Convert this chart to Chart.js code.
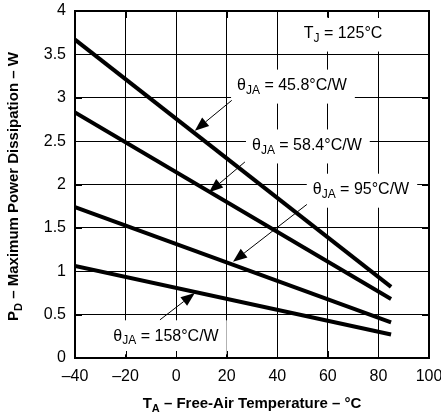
<!DOCTYPE html>
<html>
<head>
<meta charset="utf-8">
<script src="https://cdn.jsdelivr.net/npm/chart.js@4"></script>
<style>
  html, body { margin: 0; padding: 0; background: #fff; }
  #wrap { width: 441px; height: 415px; }
</style>
</head>
<body>
<div id="wrap"><canvas id="pdChart" width="441" height="415"></canvas></div>
<script>
// ---- data (T_J = 125°C) ----
const tempEnds = [-40, 85];             // free-air temperature, °C
const pd458 = [3.67, 0.82];             // θJA = 45.8 °C/W
const pd584 = [2.83, 0.68];             // θJA = 58.4 °C/W
const pd95  = [1.74, 0.41];             // θJA = 95 °C/W
const pd158 = [1.06, 0.27];             // θJA = 158 °C/W
const seriesNames = ['45.8', '58.4', '95', '158'];

const FONT = '"Liberation Sans", Arial, sans-serif';
const NOTE_SIZE = 16;

function pts(ys) {
  return tempEnds.map((t, i) => ({ x: t, y: ys[i] }));
}

// labels + arrows, placed in data units
const notes = [
  { parts: [['T'], ['J', 1], [' = 125°C']], at: [66, 3.74] },
  { parts: [['θ'], ['JA', 1], [' = 45.8°C/W']], at: [45.8, 3.14], arrow: [22, 2.97, 7.4, 2.62] },
  { parts: [['θ'], ['JA', 1], [' = 58.4°C/W']], at: [51.7, 2.45], arrow: [27.2, 2.26, 13, 1.91] },
  { parts: [['θ'], ['JA', 1], [' = 95°C/W']], at: [73.1, 1.94], arrow: [51.7, 1.77, 22.5, 1.11] },
  { parts: [['θ'], ['JA', 1], [' = 158°C/W']], at: [-4, 0.25], arrow: [-6.4, 0.44, 7.4, 0.75] }
];

function partsWidth(ctx, parts, size, bold) {
  let w = 0;
  parts.forEach(p => {
    ctx.font = (bold ? 'bold ' : '') + (p[1] ? Math.round(size * 0.75) : size) + 'px ' + FONT;
    w += ctx.measureText(p[0]).width;
  });
  return w;
}

function drawParts(ctx, parts, x, y, size, bold) {
  let cx = x;
  parts.forEach(p => {
    const s = p[1] ? Math.round(size * 0.75) : size;
    ctx.font = (bold ? 'bold ' : '') + s + 'px ' + FONT;
    ctx.fillText(p[0], cx, p[1] ? y + size * 0.3 : y);
    cx += ctx.measureText(p[0]).width;
  });
}

const notesPlugin = {
  id: 'notes',
  beforeDatasetsDraw(chart) {
    // white boxes behind the labels hide the grid, short inner ticks stay
    const ctx = chart.ctx, xs = chart.scales.x, ys = chart.scales.y, ca = chart.chartArea;
    ctx.save();
    ctx.fillStyle = '#fff';
    notes.forEach(n => {
      const w = partsWidth(ctx, n.parts, NOTE_SIZE);
      const cx = xs.getPixelForValue(n.at[0]), cy = ys.getPixelForValue(n.at[1]);
      ctx.fillRect(cx - w / 2 - 6, cy - 16, w + 14, 34);
    });
    ctx.strokeStyle = '#000';
    ctx.lineWidth = 1;
    ctx.beginPath();
    xs.ticks.forEach(t => {
      const px = Math.round(xs.getPixelForValue(t.value)) + 0.5;
      ctx.moveTo(px, ca.bottom); ctx.lineTo(px, ca.bottom - 7);
      ctx.moveTo(px, ca.top); ctx.lineTo(px, ca.top + 7);
    });
    ys.ticks.forEach(t => {
      const py = Math.round(ys.getPixelForValue(t.value)) + 0.5;
      ctx.moveTo(ca.left, py); ctx.lineTo(ca.left + 7, py);
      ctx.moveTo(ca.right, py); ctx.lineTo(ca.right - 7, py);
    });
    ctx.stroke();
    ctx.restore();
  },
  afterDatasetsDraw(chart) {
    const ctx = chart.ctx, xs = chart.scales.x, ys = chart.scales.y;
    ctx.save();
    ctx.fillStyle = '#000';
    ctx.strokeStyle = '#000';
    ctx.textBaseline = 'middle';
    notes.forEach(n => {
      const w = partsWidth(ctx, n.parts, NOTE_SIZE);
      const cx = xs.getPixelForValue(n.at[0]), cy = ys.getPixelForValue(n.at[1]);
      drawParts(ctx, n.parts, cx - w / 2, cy, NOTE_SIZE, false);
      if (n.arrow) {
        const x1 = xs.getPixelForValue(n.arrow[0]), y1 = ys.getPixelForValue(n.arrow[1]);
        const x2 = xs.getPixelForValue(n.arrow[2]), y2 = ys.getPixelForValue(n.arrow[3]);
        const a = Math.atan2(y2 - y1, x2 - x1);
        const hl = 14, hw = 5.5;
        const bx = x2 - hl * Math.cos(a), by = y2 - hl * Math.sin(a);
        ctx.lineWidth = 1;
        ctx.beginPath();
        ctx.moveTo(x1, y1);
        ctx.lineTo(bx, by);
        ctx.stroke();
        ctx.beginPath();
        ctx.moveTo(x2, y2);
        ctx.lineTo(bx + hw * Math.sin(a), by - hw * Math.cos(a));
        ctx.lineTo(bx - hw * Math.sin(a), by + hw * Math.cos(a));
        ctx.closePath();
        ctx.fill();
      }
    });

    // frame
    const ca = chart.chartArea;
    ctx.lineWidth = 2;
    ctx.strokeRect(ca.left, ca.top, ca.right - ca.left, ca.bottom - ca.top);

    // axis titles (with subscripts)
    const xt = [['T'], ['A', 1], [' – Free-Air Temperature – °C']];
    let w = partsWidth(ctx, xt, 15, true);
    drawParts(ctx, xt, (ca.left + ca.right) / 2 - w / 2, 404, 15, true);

    const yt = [['P'], ['D', 1], [' – Maximum Power Dissipation – W']];
    w = partsWidth(ctx, yt, 15, true);
    ctx.translate(14, (ca.top + ca.bottom) / 2 + 2);
    ctx.rotate(-Math.PI / 2);
    drawParts(ctx, yt, -w / 2, 0, 15, true);
    ctx.restore();
  }
};

const lineStyle = { showLine: true, borderColor: '#000', borderWidth: 4, pointRadius: 0, fill: false };

new Chart(document.getElementById('pdChart'), {
  type: 'scatter',
  data: {
    datasets: [
      Object.assign({ label: seriesNames[0], data: pts(pd458) }, lineStyle),
      Object.assign({ label: seriesNames[1], data: pts(pd584) }, lineStyle),
      Object.assign({ label: seriesNames[2], data: pts(pd95) }, lineStyle),
      Object.assign({ label: seriesNames[3], data: pts(pd158) }, lineStyle)
    ]
  },
  options: {
    responsive: false,
    animation: false,
    layout: { padding: { top: 11, right: 12, left: 0, bottom: 0 } },
    plugins: { legend: { display: false }, tooltip: { enabled: false } },
    scales: {
      x: {
        type: 'linear', min: -40, max: 100,
        afterFit: s => { s.height = 57; s.paddingLeft = 0; s.paddingRight = 0; },
        ticks: {
          stepSize: 20, color: '#000', padding: 9,
          font: { family: FONT, size: 16 },
          callback: v => String(v).replace('-', '–')
        },
        grid: { color: '#000', lineWidth: 1, drawTicks: false },
        border: { color: '#000', width: 2 }
      },
      y: {
        type: 'linear', min: 0, max: 4,
        afterFit: s => { s.width = 75; s.paddingTop = 0; s.paddingBottom = 0; },
        ticks: {
          stepSize: 0.5, color: '#000', padding: 9,
          font: { family: FONT, size: 16 },
          callback: v => String(v)
        },
        grid: { color: '#000', lineWidth: 1, drawTicks: false },
        border: { color: '#000', width: 2 }
      }
    }
  },
  plugins: [notesPlugin]
});
</script>
</body>
</html>
